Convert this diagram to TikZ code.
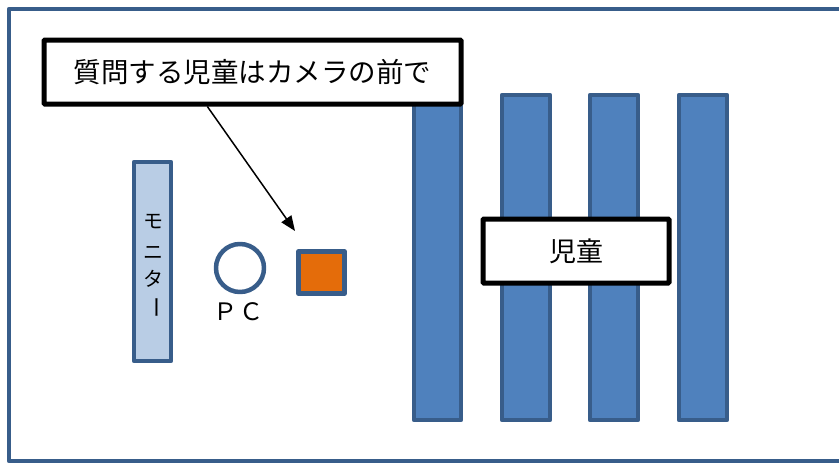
\documentclass[tikz,border=0pt]{standalone}
\usepackage{fontspec}
\setmainfont{Noto Sans CJK JP}
\usetikzlibrary{arrows.meta,calc}
\definecolor{frameblue}{HTML}{385D8A}
\definecolor{barblue}{HTML}{4F81BD}
\definecolor{monblue}{HTML}{B9CDE5}
\definecolor{camorange}{HTML}{E46C0A}
\begin{document}
\begin{tikzpicture}[x=1pt,y=-1pt,line join=round,
  bar/.style={draw=frameblue,fill=barblue,line width=4.5pt},
  label box/.style={draw=black,fill=white,line width=5pt,line join=miter,rounded corners=1pt}]
\useasboundingbox (0,0) rectangle (839,463);
\fill[white] (0,0) rectangle (839,463);
% outer frame
\draw[frameblue,line width=4.5pt] (850,9) -- (9,9) -- (9,461) -- (850,461);
% bars
\draw[bar] (414,95) rectangle (461,420);
\draw[bar] (502,95) rectangle (550,420);
\draw[bar] (590,95) rectangle (638,420);
\draw[bar] (679,95) rectangle (727,420);
% monitor
\draw[draw=frameblue,fill=monblue,line width=4.5pt] (134,162) rectangle (171,361);
\node[font=\fontsize{20}{20}\selectfont,inner sep=0pt] (mo) at (153,222) {モ};
\node[font=\fontsize{20}{20}\selectfont,inner sep=0pt] (ni) at (153,253) {ニ};
\node[font=\fontsize{20}{20}\selectfont,inner sep=0pt] (ta) at (153,279) {タ};
\node[font=\fontsize{22}{22}\selectfont,inner sep=0pt,rotate=-90] (bou) at (153,307) {ー};
% PC
\node[circle,draw=frameblue,line width=4.5pt,minimum size=48pt,inner sep=0pt] (pc) at (240,268) {};
\node[font=\fontsize{24}{24}\selectfont,inner sep=0pt] (pclabel) at (238.5,312) {Ｐ\hspace{0.08em}Ｃ};
% camera
\node[draw=frameblue,fill=camorange,line width=4.5pt,minimum width=46pt,minimum height=42pt,inner sep=0pt] (cam) at (321.5,272.5) {};
% callout
\node[label box,minimum width=417pt,minimum height=64pt,inner sep=0pt,font=\fontsize{27.5}{27.5}\selectfont] (callout) at (252.5,72) {質問する児童はカメラの前で};
% children label
\node[label box,minimum width=186pt,minimum height=64pt,inner sep=0pt,font=\fontsize{27}{27}\selectfont] (child) at (576,251) {児童};
% arrow
\coordinate (start) at ($(callout.south west)!0.393!(callout.south east)$);
\coordinate (tip) at (295,231);
\draw[line width=1.5pt,-{Triangle[length=15pt,width=12pt]}] (start) -- (tip);
\end{tikzpicture}
\end{document}
